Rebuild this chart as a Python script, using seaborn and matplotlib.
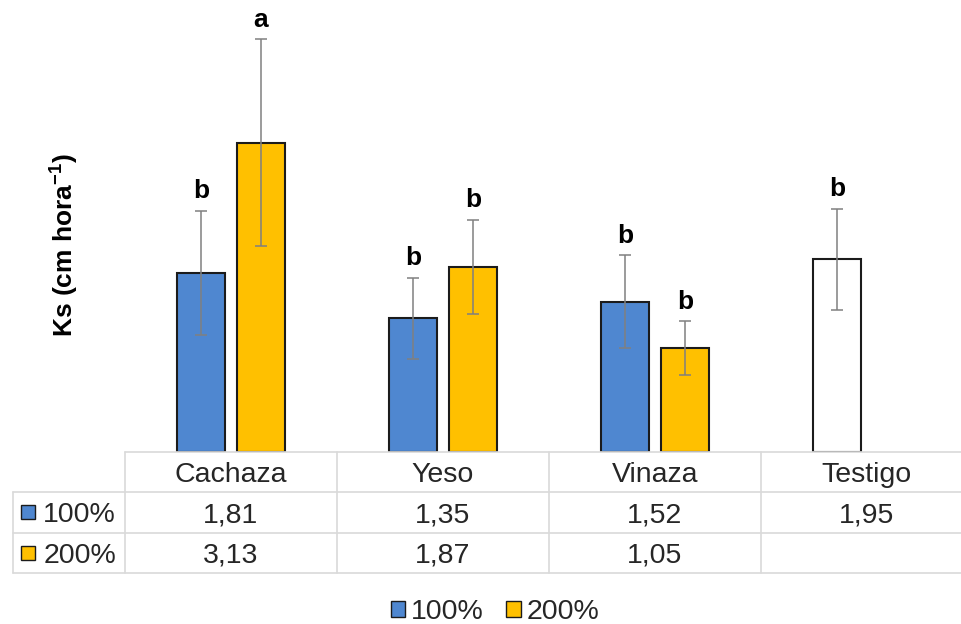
import matplotlib
matplotlib.use("Agg")
import matplotlib.pyplot as plt
from matplotlib.patches import Rectangle, Patch
import pandas as pd
import seaborn as sns

# Saturated hydraulic conductivity by amendment and dose
categories = ["Cachaza", "Yeso", "Vinaza", "Testigo"]
doses = ["100%", "200%"]
ks_100 = [1.81, 1.35, 1.52, 1.95]
ks_200 = [3.13, 1.87, 1.05, None]
sd_100 = [0.63, 0.41, 0.47, 0.51]
sd_200 = [1.05, 0.48, 0.27, None]
letters_100 = ["b", "b", "b", "b"]
letters_200 = ["a", "b", "b", None]
control = "Testigo"

palette = {"100%": "#4F87D0", "200%": "#FFC000"}
edge = "#1b1b1b"
grid_col = "#d9d9d9"
text_col = "#262626"

values = {"100%": ks_100, "200%": ks_200}
errors = {"100%": sd_100, "200%": sd_200}
letters = {"100%": letters_100, "200%": letters_200}

rows = []
for dose in doses:
    for cat, v in zip(categories, values[dose]):
        if v is not None:
            rows.append({"Tratamiento": cat, "Dosis": dose, "Ks": v})
df = pd.DataFrame(rows)

sns.set_theme(style="white")
plt.rcParams["font.family"] = ["Liberation Sans", "DejaVu Sans"]
plt.rcParams["mathtext.fontset"] = "custom"
plt.rcParams["mathtext.rm"] = "Liberation Sans"
plt.rcParams["mathtext.default"] = "regular"

W, H = 961, 624
fig = plt.figure(figsize=(W / 100, H / 100), dpi=100)
fig.patch.set_facecolor("white")

# chart area: 212 px per category, 98.6 px per unit of Ks
ax = fig.add_axes([125 / W, (H - 451.5) / H, 848 / W, 4.5 * 98.6 / H])
sns.barplot(data=df, x="Tratamiento", y="Ks", hue="Dosis",
            order=categories, hue_order=doses, palette=palette,
            saturation=1, width=0.566, gap=0.2, edgecolor=edge,
            linewidth=1.5, errorbar=None, legend=False, ax=ax, zorder=2)
ax.set_xlim(-0.5, 3.5)
ax.set_ylim(0, 4.5)
ax.set_xticks([])
ax.set_yticks([])
ax.set_xlabel("")
ax.set_ylabel("")
sns.despine(ax=ax, left=True, bottom=True)
ax.set_facecolor("none")

for dose, container in zip(doses, ax.containers):
    xs, hs, es = [], [], []
    for bar in container:
        xc = bar.get_x() + bar.get_width() / 2
        i = int(round(xc))
        h = bar.get_height()
        if categories[i] == control:
            bar.set_facecolor("white")
        sd = errors[dose][i]
        xs.append(xc)
        hs.append(h)
        es.append(sd)
        ax.annotate(letters[dose][i], (xc, h + sd), xytext=(0, 9),
                    textcoords="offset points", ha="center", va="baseline",
                    fontsize=19, fontweight="bold", color="black")
    ax.errorbar(xs, hs, yerr=es, fmt="none", ecolor="#808080",
                elinewidth=1.1, capsize=4, capthick=1.1, zorder=3)

fig.text(65 / W, (H - 245) / H, "Ks (cm hora$^{-1}$)", rotation=90,
         ha="center", va="center", fontsize=19, fontweight="bold",
         color="black")

# data table under the bars: header row + one row per dose, 40.5 px each
tax = fig.add_axes([13 / W, (H - 573) / H, 960 / W, 121.5 / H])
tax.set_xlim(-1.028, 3.5)
tax.set_ylim(3, 0)
tax.axis("off")
line_kw = dict(color=grid_col, lw=1.2, clip_on=False)
tax.plot([-0.5, 3.5], [0, 0], **line_kw)
for y in (1, 2, 3):
    tax.plot([-1.028, 3.5], [y, y], **line_kw)
tax.plot([-1.028, -1.028], [1, 3], **line_kw)
for x in (-0.5, 0.5, 1.5, 2.5, 3.5):
    tax.plot([x, x], [0, 3], **line_kw)

fs = 20.5
base = 0.5 + 0.25   # baseline sits so the capitals are centred in the row
for i, cat in enumerate(categories):
    tax.text(i, base, cat, ha="center", va="baseline", fontsize=fs,
             color=text_col)
for r, dose in enumerate(doses):
    y = r + 1.5
    tax.add_patch(Rectangle((-0.99, y - 0.17), 0.066, 0.34,
                            facecolor=palette[dose], edgecolor=edge, lw=1))
    tax.text(-0.885, y + 0.25, dose, ha="left", va="baseline", fontsize=fs,
             color=text_col)
    for i, v in enumerate(values[dose]):
        if v is not None:
            tax.text(i, y + 0.25, f"{v:.2f}".replace(".", ","), ha="center",
                     va="baseline", fontsize=fs, color=text_col)

handles = [Patch(facecolor=palette[d], edgecolor=edge, lw=1) for d in doses]
fig.legend(handles, doses, loc="center", bbox_to_anchor=(495 / W, 12 / H),
           ncol=2, frameon=False, fontsize=fs, handlelength=0.5,
           handleheight=0.5, handletextpad=0.2, columnspacing=0.8,
           labelcolor=text_col)

fig.savefig("out.png", dpi=100, facecolor="white")
